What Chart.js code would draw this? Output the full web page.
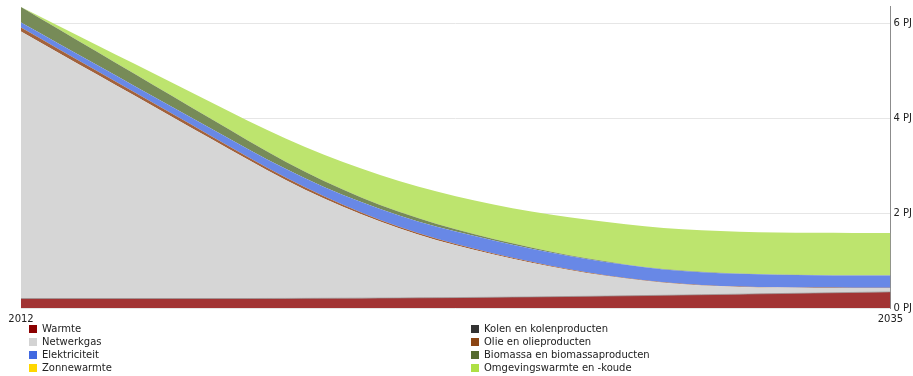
<!DOCTYPE html>
<html>
<head>
<meta charset="utf-8">
<script src="https://cdn.jsdelivr.net/npm/chart.js@4/dist/chart.umd.min.js"></script>
<style>
  html, body { margin: 0; padding: 0; background: #fff; }
  #wrap { position: relative; width: 913px; height: 376px; font-family: "DejaVu Sans", sans-serif; }
  #wrap canvas { position: absolute; left: 0; top: 0; }
  .lg { position: absolute; height: 13px; line-height: 13px; font-size: 10px; color: #222; white-space: nowrap; }
  .lg .box { position: absolute; left: 0; top: 2.5px; width: 8px; height: 8px; }
  .lg .txt { position: absolute; left: 13px; top: 0; }
</style>
</head>
<body>
<div id="wrap">
  <canvas id="c" width="913" height="376"></canvas>
  <div id="legend"></div>
</div>
<script>
// Years on the category axis
const years = ['2012','2013','2014','2015','2016','2017','2018','2019','2020','2021','2022','2023',
               '2024','2025','2026','2027','2028','2029','2030','2031','2032','2033','2034','2035'];
// Only the first and last year get a tick label
const xTickLabels = ['2012', '2035'];
// Value axis ticks (PJ)
const yTicks = [0, 2, 4, 6];
const yUnit = ' PJ';

// Energy use per carrier, PJ
const warmte          = [0.20,0.20,0.20,0.20,0.20,0.20,0.20,0.202,0.205,0.208,0.212,0.217,0.223,0.23,0.238,0.247,0.257,0.268,0.28,0.292,0.304,0.316,0.328,0.34];
const netwerkgas      = [5.63,5.18,4.73,4.28,3.83,3.38,2.93,2.498,2.11,1.767,1.468,1.213,1.002,0.81,0.637,0.488,0.363,0.262,0.195,0.153,0.126,0.108,0.094,0.082];
const kolen           = [0,0,0,0,0,0,0,0,0,0,0,0,0,0,0,0,0,0,0,0,0,0,0,0];
const olie            = [0.085,0.08,0.075,0.07,0.065,0.06,0.055,0.05,0.045,0.04,0.035,0.03,0.025,0.02,0.018,0.015,0.013,0.011,0.01,0.008,0.007,0.006,0.005,0.005];
const elektriciteit   = [0.105,0.115,0.125,0.135,0.145,0.155,0.17,0.185,0.20,0.22,0.238,0.255,0.268,0.276,0.28,0.28,0.277,0.273,0.27,0.267,0.264,0.262,0.26,0.26];
const zonnewarmte     = [0,0,0,0,0,0,0,0,0,0,0,0,0,0,0,0,0,0,0,0,0,0,0,0];
const biomassa        = [0.33,0.305,0.28,0.255,0.23,0.205,0.18,0.152,0.124,0.098,0.075,0.056,0.04,0.028,0.02,0.014,0.01,0.008,0.007,0.006,0.005,0.005,0.005,0.005];
const omgevingswarmte = [0,0.07,0.14,0.21,0.28,0.35,0.415,0.488,0.556,0.607,0.652,0.684,0.707,0.741,0.777,0.816,0.845,0.868,0.878,0.884,0.889,0.89,0.892,0.891];

// Series in stacking order (bottom to top): label, values, area fill, legend swatch
const series = [
  ['Warmte',                        warmte,          '#a23434', '#8b0000'],
  ['Netwerkgas',                    netwerkgas,      '#d6d6d6', '#d3d3d3'],
  ['Kolen en kolenproducten',       kolen,           '#3c3c3c', '#333333'],
  ['Olie en olieproducten',         olie,            '#a2623c', '#8b4513'],
  ['Elektriciteit',                 elektriciteit,   '#6888e6', '#4169e1'],
  ['Zonnewarmte',                   zonnewarmte,     '#ffdf33', '#ffd700'],
  ['Biomassa en biomassaproducten', biomassa,        '#778b58', '#556b2f'],
  ['Omgevingswarmte en -koude',     omgevingswarmte, '#bde46e', '#aee044']
];

// Legend layout: two columns of four
const legendLeft  = ['Warmte', 'Netwerkgas', 'Elektriciteit', 'Zonnewarmte'];
const legendRight = ['Kolen en kolenproducten', 'Olie en olieproducten', 'Biomassa en biomassaproducten', 'Omgevingswarmte en -koude'];

const FONT = { family: '"DejaVu Sans", sans-serif', size: 10 };

const datasets = series.map(([label, data, fillColor], i) => ({
  label,
  data,
  backgroundColor: fillColor,
  // thin grey seam on top of the bottom (Warmte) band
  borderColor: i === 0 ? 'rgba(150,150,150,0.7)' : fillColor,
  borderWidth: i === 0 ? 1 : 0,
  pointRadius: 0,
  pointHoverRadius: 0,
  fill: i === 0 ? 'origin' : '-1',
  cubicInterpolationMode: 'monotone'
}));

new Chart(document.getElementById('c'), {
  type: 'line',
  data: { labels: years, datasets },
  options: {
    responsive: false,
    animation: false,
    events: [],
    layout: { padding: { left: 21, right: -2, top: 0, bottom: 46 } },
    plugins: { legend: { display: false }, tooltip: { enabled: false } },
    scales: {
      x: {
        type: 'category',
        offset: false,
        grid: { display: false, drawTicks: false },
        border: { display: false },
        ticks: {
          autoSkip: false,
          maxRotation: 0,
          padding: 5,
          color: '#222',
          font: FONT,
          callback: (v, i) => xTickLabels.includes(years[i]) ? years[i] : ''
        }
      },
      y: {
        position: 'right',
        stacked: true,
        min: 0,
        max: 6.37,
        grid: { color: '#e6e6e6', drawTicks: false },
        border: { display: true, color: '#8c8c8c' },
        ticks: {
          padding: 3,
          color: '#222',
          font: { family: FONT.family, size: 10, lineHeight: 0.6 },
          callback: v => v + yUnit
        },
        afterBuildTicks: scale => { scale.ticks = yTicks.map(v => ({ value: v })); }
      }
    }
  }
});

// HTML legend
const legendEl = document.getElementById('legend');
const swatch = Object.fromEntries(series.map(s => [s[0], s[3]]));
[[legendLeft, 29], [legendRight, 471]].forEach(([names, left]) => {
  names.forEach((name, row) => {
    const item = document.createElement('div');
    item.className = 'lg';
    item.style.left = left + 'px';
    item.style.top = (322 + row * 13) + 'px';
    item.innerHTML = '<span class="box" style="background:' + swatch[name] + '"></span><span class="txt"></span>';
    item.querySelector('.txt').textContent = name;
    legendEl.appendChild(item);
  });
});
</script>
</body>
</html>
